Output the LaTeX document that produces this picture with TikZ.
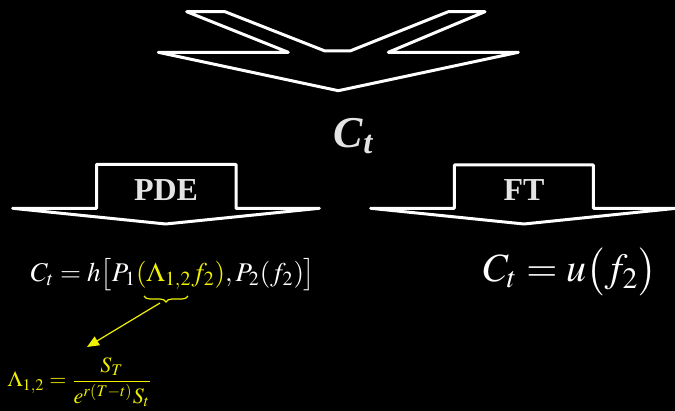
\documentclass[tikz,border=0pt]{standalone}
\usepackage{amsmath}
\usepackage{mathptmx}
\usepackage[no-math]{fontspec}
\setmainfont{Liberation Serif}
\usetikzlibrary{arrows.meta, decorations.pathreplacing, calc}
\definecolor{BgBlack}{RGB}{0,0,0}
\definecolor{ArrowWhite}{RGB}{255,255,255}
\definecolor{LabelGray}{RGB}{228,228,228}
\definecolor{HiYellow}{RGB}{240,240,0}

\begin{document}
\begin{tikzpicture}[x=0.5pt, y=-0.5pt]

    % Background
    \fill[BgBlack] (0,0) rectangle (675,411);
    \useasboundingbox (0,0) rectangle (675,411);

    % Merging arrow on top
    \draw[ArrowWhite, line width=1.5pt, line join=round]
        (186.7,11.7) -- (225,11.7) -- (325,51) -- (350,51) -- (448.3,11.7)
        -- (485,11.7) -- (388.3,52.3) -- (518.3,52.3) -- (338.3,90.7)
        -- (158.3,52.3) -- (288.3,52.3) -- cycle;

    % Result
    \node[text=LabelGray, font=\fontsize{22}{26}\selectfont]
          (CT) at (354,136) {$\textbf{\textit{C}}_{\textbf{\textit{t}}}$};

    % PDE arrow
    \draw[ArrowWhite, line width=1.5pt, line join=round]
        (12.7,208.3) -- (96.7,208.3) -- (96.7,164.3) -- (236,164.3)
        -- (236,208.3) -- (319.3,208.3) -- (165.7,224) -- cycle;
    \node[text=LabelGray, font=\fontsize{16}{18}\bfseries]
          (PDE) at (166,190) {PDE};

    % FT arrow
    \draw[ArrowWhite, line width=1.5pt, line join=round]
        (370.7,208.3) -- (454.3,208.3) -- (454.3,165) -- (593.3,165)
        -- (593.3,208.3) -- (676,208.3) -- (524,224) -- cycle;
    \node[text=LabelGray, font=\fontsize{16}{18}\bfseries]
          (FT) at (524,190) {FT};

    % PDE result
    \node[text=white, font=\fontsize{13.5}{16}\selectfont]
          (PF) at (173,275)
          {$C_t = h\bigl[P_1{\color{HiYellow}(\Lambda_{1,2} f_2)}, P_2(f_2)\bigr]$};

    % FT result
    \node[text=white, font=\fontsize{20}{24}\selectfont]
          (FF) at (570,272) {$C_t = u\bigl(f_2\bigr)$};

    % Lambda definition
    \node[text=HiYellow, font=\fontsize{11}{13}\selectfont]
          (LD) at (80,382) {$\Lambda_{1,2} = \dfrac{S_T}{e^{r(T-t)}S_t}$};

    % Brace and pointer
    \draw[HiYellow, line width=0.6pt, decorate,
          decoration={brace, mirror, amplitude=3pt}] (144,296) -- (188,296);
    \coordinate (BT) at (160,303);
    \coordinate (LT) at (87,347);
    \draw[-{Triangle[length=6pt, width=5pt]}, HiYellow, line width=0.6pt] (BT) -- (LT);
  \end{tikzpicture}
\end{document}
